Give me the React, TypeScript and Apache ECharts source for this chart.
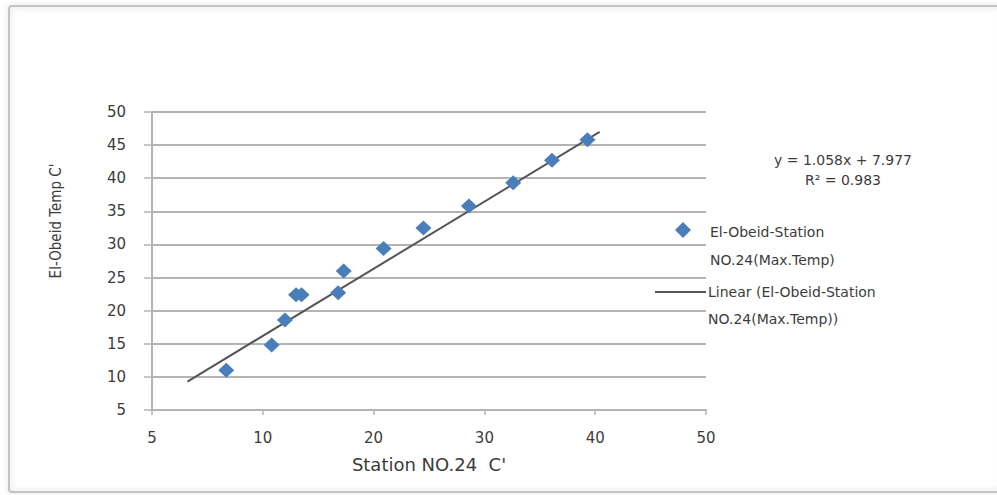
import React, { useEffect, useRef } from "react";
import * as echarts from "echarts";

// Station NO.24 daily max temperature vs El-Obeid max temperature (°C)
const stationX = [6.7, 10.8, 12.0, 13.0, 13.5, 16.8, 17.3, 20.9, 24.5, 28.6, 32.6, 36.1, 39.3];
const obeidY = [11.0, 14.8, 18.6, 22.4, 22.4, 22.7, 26.0, 29.4, 32.5, 35.8, 39.3, 42.7, 45.8];

// Linear trend line end points
const trendX = [3.2, 40.4];
const trendY = [9.3, 47.0];

const xTickLabels = ["5", "10", "20", "30", "40", "50"];
const yTicks = { min: 5, max: 50, step: 5 };

const seriesName = "El-Obeid-Station\nNO.24(Max.Temp)";
const trendName = "Linear (El-Obeid-Station\nNO.24(Max.Temp))";
const equationText = "y = 1.058x + 7.977";
const r2Text = "R\u00b2 = 0.983";

const labelFont = "DejaVu Sans, Verdana, sans-serif";
const textColor = "#3c3c3c";
const gridColor = "#b4b4b4";
const markerColor = "#4a7ebb";

export default function App() {
  const ref = useRef<HTMLDivElement>(null);

  useEffect(() => {
    if (!ref.current) return;
    const chart = echarts.init(ref.current, null, { renderer: "svg" });

    const points = stationX.map((x, i) => [x, obeidY[i]]);
    const trend = trendX.map((x, i) => [x, trendY[i]]);

    chart.setOption({
      animation: false,
      backgroundColor: "#ffffff",
      grid: { left: 152, top: 112, width: 554, height: 298 },
      xAxis: {
        type: "value",
        min: 0,
        max: 50,
        interval: 10,
        name: "Station NO.24  C'",
        nameLocation: "middle",
        nameGap: 45,
        nameTextStyle: { fontFamily: labelFont, fontSize: 18, color: textColor },
        axisLine: { show: true, lineStyle: { color: gridColor, width: 2 } },
        axisTick: { show: true, length: 5, lineStyle: { color: gridColor, width: 1.5 } },
        splitLine: { show: false },
        axisLabel: {
          margin: 20,
          fontFamily: labelFont,
          fontSize: 15,
          color: textColor,
          formatter: (v: number) => xTickLabels[Math.round(v / 10)] ?? "",
        },
      },
      yAxis: {
        type: "value",
        min: yTicks.min,
        max: yTicks.max,
        interval: yTicks.step,
        axisLine: { show: true, lineStyle: { color: gridColor, width: 2 } },
        axisTick: { show: true, length: 8, lineStyle: { color: gridColor, width: 1.5 } },
        splitLine: { show: true, lineStyle: { color: gridColor, width: 2 } },
        axisLabel: {
          margin: 26,
          fontFamily: labelFont,
          fontSize: 15,
          color: textColor,
        },
      },
      series: [
        {
          name: trendName,
          type: "line",
          data: trend,
          symbol: "none",
          lineStyle: { color: "#555555", width: 2 },
          z: 2,
        },
        {
          name: seriesName,
          type: "scatter",
          data: points,
          symbol: "diamond",
          symbolSize: [16, 15],
          itemStyle: { color: markerColor, opacity: 1 },
          z: 3,
        },
      ],
      graphic: [
        {
          type: "rect",
          shape: { x: 9, y: 6, width: 995, height: 486, r: 3 },
          style: {
            fill: "none",
            stroke: "#c4c4c4",
            lineWidth: 2,
            shadowBlur: 6,
            shadowColor: "rgba(0,0,0,0.18)",
          },
          z: -10,
          silent: true,
        },
        {
          type: "text",
          x: 56,
          y: 221,
          rotation: Math.PI / 2,
          style: {
            text: "El-Obeid Temp C'",
            fontFamily: "Liberation Sans Narrow, DejaVu Sans Condensed, sans-serif",
            fontSize: 15,
            fill: textColor,
            align: "center",
            verticalAlign: "middle",
          },
        },
        {
          type: "text",
          x: 843,
          y: 160,
          style: {
            text: equationText,
            fontFamily: labelFont,
            fontSize: 14,
            fill: textColor,
            align: "center",
            verticalAlign: "middle",
          },
        },
        {
          type: "text",
          x: 843,
          y: 180,
          style: {
            text: r2Text,
            fontFamily: labelFont,
            fontSize: 14,
            fill: textColor,
            align: "center",
            verticalAlign: "middle",
          },
        },
        // legend: scatter entry
        {
          type: "polygon",
          shape: { points: [[683, 222], [691, 230], [683, 238], [675, 230]] },
          style: { fill: markerColor },
        },
        {
          type: "text",
          x: 710,
          y: 218,
          style: {
            text: seriesName,
            fontFamily: labelFont,
            fontSize: 14,
            lineHeight: 28,
            fill: textColor,
            align: "left",
            verticalAlign: "top",
          },
        },
        // legend: trend entry
        {
          type: "line",
          shape: { x1: 655, y1: 292, x2: 706, y2: 292 },
          style: { stroke: "#555555", lineWidth: 2 },
        },
        {
          type: "text",
          x: 708,
          y: 278,
          style: {
            text: trendName,
            fontFamily: labelFont,
            fontSize: 14,
            lineHeight: 27,
            fill: textColor,
            align: "left",
            verticalAlign: "top",
          },
        },
      ],
    });

    return () => chart.dispose();
  }, []);

  return (
    <div
      ref={ref}
      style={{ position: "fixed", left: 0, top: 0, width: 997, height: 495 }}
    />
  );
}
